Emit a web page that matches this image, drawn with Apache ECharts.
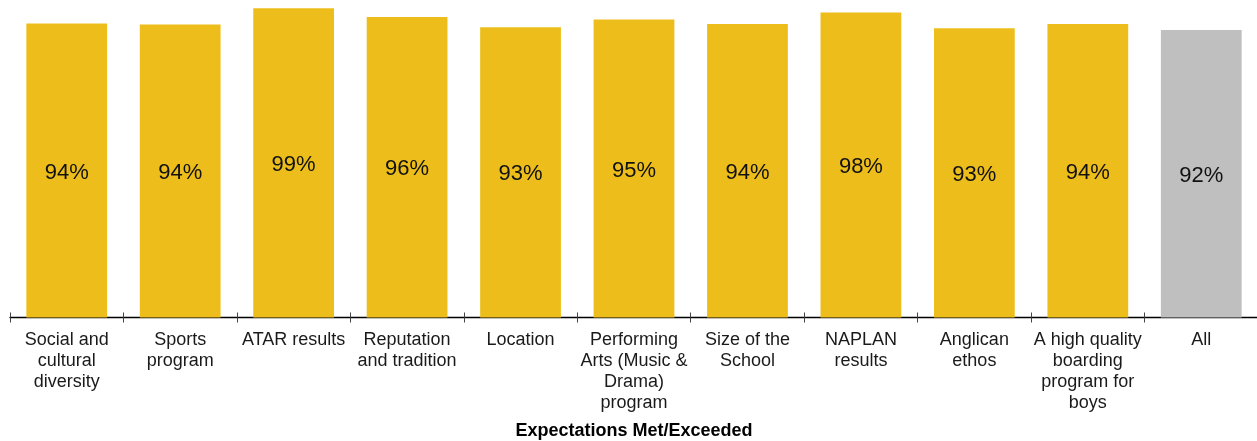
<!DOCTYPE html>
<html>
<head>
<meta charset="utf-8">
<script src="https://cdn.jsdelivr.net/npm/echarts@6/dist/echarts.min.js"></script>
<style>html,body{margin:0;padding:0;background:#fff;}#chart{width:1257px;height:441px;}</style>
</head>
<body>
<div id="chart"></div>
<script>
var categories = [
  "Social and\ncultural\ndiversity",
  "Sports\nprogram",
  "ATAR results",
  "Reputation\nand tradition",
  "Location",
  "Performing\nArts (Music &\nDrama)\nprogram",
  "Size of the\nSchool",
  "NAPLAN\nresults",
  "Anglican\nethos",
  "A high quality\nboarding\nprogram for\nboys",
  "All"
];
var values = [94.05, 93.8, 99.0, 96.2, 92.9, 95.4, 93.9, 97.6, 92.6, 93.9, 92.0];
var highlightIndex = 10; // "All" shown in grey
var axisTitle = "Expectations Met/Exceeded";

var chart = echarts.init(document.getElementById('chart'), null, {renderer: 'canvas'});
var font = '"Liberation Sans", Arial, sans-serif';
chart.setOption({
  animation: false,
  grid: {left: 10, right: -1, top: 5, bottom: 123.5, containLabel: false, outerBoundsMode: 'none'},
  xAxis: [{
    type: 'category',
    data: categories,
    axisLine: {lineStyle: {color: '#000', width: 1.3}},
    axisTick: {show: true, length: 5, lineStyle: {color: '#444', width: 1}},
    axisLabel: {
      interval: 0, margin: 12, color: '#1a1a1a', fontFamily: font, fontSize: 18, lineHeight: 21
    },
    name: axisTitle,
    nameLocation: 'middle',
    nameGap: 105,
    nameTextStyle: {fontFamily: font, fontWeight: 'bold', fontSize: 18, color: '#000'}
  }, {
    type: 'category',
    data: categories,
    position: 'bottom',
    axisLine: {show: false},
    axisTick: {show: true, inside: true, length: 5, lineStyle: {color: '#444', width: 1}},
    axisLabel: {show: false}
  }],
  yAxis: {type: 'value', min: 0, max: 100, show: false, splitLine: {show: false}},
  series: [{
    type: 'bar',
    xAxisIndex: 0,
    barCategoryGap: '28.8%',
    data: values.map(function (v, i) {
      return {value: v, itemStyle: {color: i === highlightIndex ? '#BFBFBF' : '#EDBE1B'}};
    }),
    label: {
      show: true, position: 'inside', offset: [0, 2], color: '#111', fontFamily: font, fontSize: 22,
      formatter: function (p) { return Math.round(p.value) + '%'; }
    }
  }]
});
</script>
</body>
</html>
